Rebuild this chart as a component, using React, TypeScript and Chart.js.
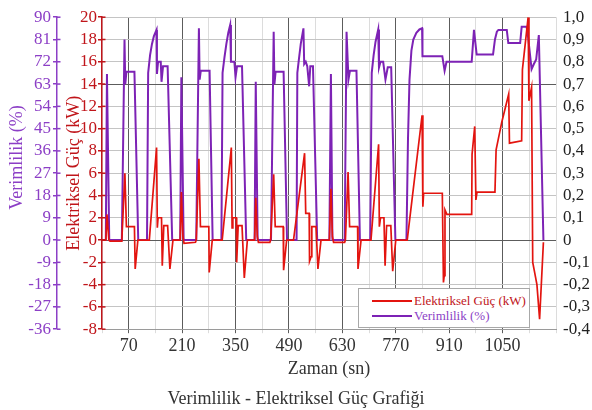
import React, { useEffect, useRef } from 'react';
import { Chart, registerables } from 'chart.js';

Chart.register(...registerables);

// ---- data -------------------------------------------------------------
const powerTimes = [
  0, 10, 13, 18, 21, 50, 52, 60, 64, 85, 87, 94, 124, 143, 145, 147, 156, 158, 162, 172, 178, 186,
  205, 208, 212, 215, 245, 247, 254, 258, 280, 281, 289, 315, 339, 341, 343, 352, 353, 357, 367, 373, 381,
  400, 403, 407, 410, 440, 442, 450, 454, 475, 476, 484, 502, 531, 534, 543, 544, 548, 550, 561, 566, 574,
  596, 600, 604, 607, 636, 638, 645, 649, 670, 671, 679, 705, 725, 727, 730, 739, 742, 746, 757, 762, 770,
  800, 839, 841, 843, 892, 895, 897, 899, 904, 969, 970, 977, 980, 983, 1030, 1033, 1048, 1066, 1068,
  1100, 1102, 1117, 1119, 1126, 1129, 1134, 1140, 1147, 1157,
];
const powerKw = [
  0, 0, 2.3, 0, -0.1, -0.1, 0, 6.0, 1.2, 1.2, -2.6, 0, 0, 8.3, 1.1, 2.0, 2.0, -2.3, 1.3, 1.3, -2.6, 0,
  0, 4.3, 0.4, -0.3, -0.2, 0, 7.3, 1.2, 1.2, -2.9, 0, 0, 8.3, 1.1, 2.0, 2.0, -2.0, 1.3, 1.3, -3.4, 0,
  0, 3.8, 0.3, -0.2, -0.2, 0, 5.9, 1.2, 1.2, -2.7, 0, 0, 7.8, 2.4, 2.4, -1.9, -1.5, 1.2, 1.2, -2.6, 0,
  0, 4.6, 0.3, -0.2, -0.2, 0, 6.1, 1.2, 1.2, -2.6, 0, 0, 8.6, 1.2, 2.0, 2.0, -2.3, 1.3, 1.3, -2.8, 0,
  0, 11.2, 3.0, 4.2, 4.2, -3.8, -3.2, 2.7, 2.3, 2.3, 7.7, 10.2, 3.6, 4.3, 4.3, 8.1, 10.6, 13.1, 8.7,
  8.9, 15.3, 20.0, 12.5, 13.7, -2.0, -2.9, -4.0, -7.1, -0.2,
];

const effTimes = [
  0, 10, 13, 19, 52, 59, 61, 64, 85, 95, 118, 121, 126, 131, 136, 143, 144, 147, 154, 156, 160, 172, 184,
  205, 208, 214, 247, 254, 256, 259, 282, 290, 313, 316, 321, 326, 331, 336, 338, 347, 350, 354, 367, 378,
  400, 403, 408, 443, 450, 452, 455, 476, 485, 510, 512, 516, 521, 528, 530, 534, 538, 543, 546, 553, 564,
  596, 600, 604, 636, 641, 646, 650, 667, 676, 703, 707, 712, 717, 724, 726, 730, 737, 743, 749, 758, 769,
  798, 802, 806, 811, 816, 824, 832, 839, 840, 892, 898, 903, 969, 975, 982, 1025, 1030, 1035, 1039,
  1061, 1065, 1096, 1100, 1113, 1117, 1126, 1132, 1138, 1145, 1157,
];
const effRatio = [
  0, 0, 0.745, 0, 0, 0.9, 0.7, 0.755, 0.755, 0, 0, 0.75, 0.83, 0.88, 0.915, 0.943, 0.745, 0.8, 0.8, 0.71, 0.78, 0.78, 0,
  0, 0.73, 0, 0, 0.95, 0.72, 0.76, 0.76, 0, 0, 0.75, 0.82, 0.88, 0.93, 0.965, 0.8, 0.8, 0.73, 0.78, 0.78, 0,
  0, 0.71, 0, 0, 0.935, 0.7, 0.755, 0.755, 0, 0, 0.75, 0.81, 0.88, 0.95, 0.79, 0.8, 0.78, 0.69, 0.78, 0.78, 0,
  0, 0.745, 0, 0, 0.935, 0.72, 0.76, 0.76, 0, 0, 0.75, 0.83, 0.89, 0.945, 0.774, 0.8, 0.8, 0.72, 0.775, 0.775, 0,
  0, 0.45, 0.72, 0.85, 0.9, 0.93, 0.945, 0.95, 0.825, 0.825, 0.76, 0.8, 0.8, 0.943, 0.833, 0.833, 0.9, 0.935, 0.943,
  0.943, 0.884, 0.884, 0.957, 0.957, 0.91, 0.767, 0.79, 0.81, 0.92, 0,
];

const xLabelValues = [70, 210, 350, 490, 630, 770, 910, 1050];
const powerLabel = 'Elektriksel Güç (kW)';
const effLabel = 'Verimlilik (%)';
const chartTitle = 'Verimlilik - Elektriksel Güç Grafiği';
const xTitle = 'Zaman (sn)';

// ---- styles -----------------------------------------------------------
const FONT = "'Liberation Serif', 'Times New Roman', serif";
const RED = '#e3140f';
const RED_AXIS = '#c0151a';
const PURPLE = '#7d22b5';
const PURPLE_AXIS = '#8c3fc6';
const DARK_GRID = '#5c5c5c';
const LIGHT_GRID = '#c4c4c4';

const crossTicks = {
  id: 'crossTicks',
  afterDraw(chart: any) {
    const c = chart.ctx;
    ['yP', 'yR'].forEach((id) => {
      const s = chart.scales[id];
      if (!s) return;
      const x = s.right;
      c.save();
      c.strokeStyle = s.options.border.color;
      c.lineWidth = 1.5;
      s.ticks.forEach((_t: any, i: number) => {
        const y = s.getPixelForTick(i);
        c.beginPath();
        c.moveTo(x, y);
        c.lineTo(x + 3.5, y);
        c.stroke();
      });
      c.restore();
    });
  },
};

// leading spaces nudge a centred axis title upward, as in the original
const padTitle = (s: string, n: number) => ' '.repeat(n) + s;

export default function App() {
  const ref = useRef<HTMLCanvasElement>(null);

  useEffect(() => {
    document.body.style.margin = '0';
    Chart.defaults.font.family = FONT;
    const canvas = ref.current!;
    const chart = new Chart(canvas, {
      type: 'line',
      data: {
        datasets: [
          {
            label: powerLabel,
            data: powerTimes.map((t, i) => ({ x: t, y: powerKw[i] })),
            yAxisID: 'yR',
            borderColor: RED,
            backgroundColor: RED,
            borderWidth: 1.7,
            pointRadius: 0,
            tension: 0,
            order: 0,
          },
          {
            label: effLabel,
            data: effTimes.map((t, i) => ({ x: t, y: effRatio[i] })),
            yAxisID: 'yRight',
            borderColor: PURPLE,
            backgroundColor: PURPLE,
            borderWidth: 2,
            pointRadius: 0,
            tension: 0,
            order: 1,
          },
        ],
      },
      options: {
        animation: false,
        responsive: true,
        maintainAspectRatio: false,
        layout: { padding: { top: 11, left: 0, right: 0, bottom: 0 } },
        plugins: {
          legend: { display: false },
          tooltip: { enabled: false },
          title: {
            display: true,
            position: 'bottom',
            text: chartTitle,
            color: '#333',
            font: { size: 18, weight: 'normal', family: FONT },
            padding: { top: 0, bottom: 0 },
          },
        },
        scales: {
          x: {
            type: 'linear',
            min: 0,
            max: 1190,
            ticks: {
              stepSize: 70,
              autoSkip: false,
              maxRotation: 0,
              color: '#333',
              font: { size: 18, family: FONT },
              padding: 2,
              callback: (v: any) => (xLabelValues.includes(Number(v)) ? String(v) : ''),
            },
            grid: {
              tickLength: 4,
              color: (c: any) => (c.tick && xLabelValues.includes(c.tick.value) ? DARK_GRID : '#dcdcdc'),
            },
            border: { color: '#9a9a9a' },
            title: {
              display: true,
              text: xTitle,
              color: '#333',
              font: { size: 18, family: FONT },
              padding: { top: 0, bottom: 8 },
            },
          },
          yP: {
            type: 'linear',
            display: true,
            position: 'left',
            weight: 10,
            min: -36,
            max: 90,
            ticks: { stepSize: 9, autoSkip: false, color: PURPLE_AXIS, font: { size: 17, family: FONT }, padding: 2 },
            grid: { drawOnChartArea: false, color: PURPLE_AXIS, tickLength: 4, lineWidth: 1.5 },
            border: { color: PURPLE_AXIS, width: 1.5 },
            title: {
              display: true,
              text: padTitle(effLabel, 7),
              color: PURPLE_AXIS,
              font: { size: 18, family: FONT },
              padding: { top: 6, bottom: 0 },
            },
            afterFit: (s: any) => {
              s.width = 57;
            },
          },
          yR: {
            type: 'linear',
            display: true,
            position: 'left',
            weight: 1,
            min: -8,
            max: 20,
            ticks: { stepSize: 2, autoSkip: false, color: RED_AXIS, font: { size: 17, family: FONT }, padding: 1 },
            grid: { drawOnChartArea: false, color: RED_AXIS, tickLength: 4, lineWidth: 1.5 },
            border: { color: RED_AXIS, width: 1.5 },
            title: {
              display: true,
              text: powerLabel,
              color: RED_AXIS,
              font: { size: 18, family: FONT },
              padding: { top: 6, bottom: 0 },
            },
            afterFit: (s: any) => {
              s.width = 45;
            },
          },
          yRight: {
            type: 'linear',
            display: true,
            position: 'right',
            min: -0.4,
            max: 1.0,
            ticks: {
              stepSize: 0.1,
              autoSkip: false,
              color: '#222',
              font: { size: 17, family: FONT },
              padding: 7,
              callback: (v: any) => {
                const n = Number(v);
                if (Math.abs(n) < 1e-9) return '0';
                return n.toFixed(1).replace('.', ',');
              },
            },
            grid: {
              drawTicks: false,
              color: (c: any) => {
                const v = c.tick ? c.tick.value : 1;
                return Math.abs(v) < 1e-6 || Math.abs(v - 0.7) < 1e-6 ? DARK_GRID : LIGHT_GRID;
              },
            },
            border: { display: false },
            afterFit: (s: any) => {
              s.width = 36;
            },
          },
        },
      } as any,
      plugins: [crossTicks],
    });
    return () => chart.destroy();
  }, []);

  const legendItems = [
    { label: powerLabel, color: RED, text: RED_AXIS },
    { label: effLabel, color: PURPLE, text: PURPLE_AXIS },
  ];

  return (
    <div style={{ position: 'absolute', left: 0, top: 0, width: 592, height: 410, background: '#fff' }}>
      <div style={{ position: 'relative', width: 592, height: 410 }}>
        <canvas ref={ref} />
      </div>
      <div
        style={{
          position: 'absolute',
          left: 358,
          top: 288,
          width: 172,
          height: 40,
          boxSizing: 'border-box',
          border: '1px solid #a8a8a8',
          background: '#fff',
          fontFamily: FONT,
          fontSize: 13,
        }}
      >
        {legendItems.map((it, i) => (
          <div key={it.label} style={{ position: 'absolute', left: 0, top: 4 + i * 15, height: 15, width: 170 }}>
            <div style={{ position: 'absolute', left: 13, top: 7, width: 40, height: 2, background: it.color }} />
            <div style={{ position: 'absolute', left: 55, top: 0, lineHeight: '15px', color: it.text, whiteSpace: 'nowrap' }}>
              {it.label}
            </div>
          </div>
        ))}
      </div>
    </div>
  );
}
